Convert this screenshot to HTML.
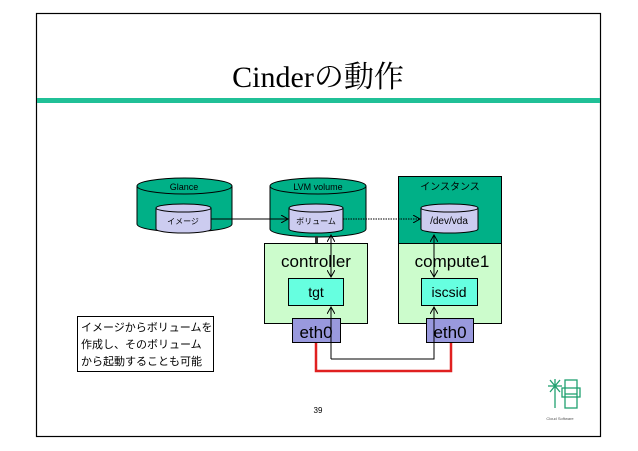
<!DOCTYPE html>
<html><head><meta charset="utf-8"><style>
body{margin:0;background:#fff;width:638px;height:451px;overflow:hidden}
svg{display:block}
text{font-family:"Liberation Sans","Noto Sans CJK JP",sans-serif}
</style></head><body>
<svg width="638" height="451" viewBox="0 0 638 451">
<defs><marker id="a" markerWidth="8" markerHeight="8" refX="7" refY="4" orient="auto" markerUnits="userSpaceOnUse"><path d="M0,0 L7,4 L0,8" fill="none" stroke="#000" stroke-width="1"/></marker></defs>
<rect x="36.5" y="13.5" width="564" height="423" fill="#fff" stroke="#000" stroke-width="1.2"/>
<rect x="37" y="98" width="563" height="5" fill="#20c097"/>
<text x="318" y="87" text-anchor="middle" font-size="30" style="font-family:'Liberation Serif','Noto Serif CJK SC',serif">Cinderの動作</text>

<path d="M137,186 L137,224 A47.5,8 0 0 0 232,224 L232,186" fill="#00b087" stroke="#000"/>
<ellipse cx="184.5" cy="186" rx="47.5" ry="8" fill="#00b087" stroke="#000"/>
<text x="184" y="190" text-anchor="middle" font-size="9">Glance</text>
<path d="M156,208 L156,229 A27.5,4 0 0 0 211,229 L211,208" fill="#ccccf0" stroke="#000"/>
<ellipse cx="183.5" cy="208" rx="27.5" ry="4" fill="#ccccf0" stroke="#000"/>
<text x="183" y="224" text-anchor="middle" font-size="8">イメージ</text>

<path d="M270,186 L270,229 A48,8 0 0 0 366,229 L366,186" fill="#00b087" stroke="#000"/>
<ellipse cx="318" cy="186" rx="48" ry="8" fill="#00b087" stroke="#000"/>
<text x="318" y="190" text-anchor="middle" font-size="9">LVM volume</text>
<path d="M289,208 L289,229 A27,4 0 0 0 343,229 L343,208" fill="#ccccf0" stroke="#000"/>
<ellipse cx="316" cy="208" rx="27" ry="4" fill="#ccccf0" stroke="#000"/>
<text x="316" y="224" text-anchor="middle" font-size="8">ボリューム</text>
<rect x="315" y="236" width="3" height="7" fill="#333"/>

<rect x="398.5" y="176.5" width="103" height="67" fill="#00b087" stroke="#000"/>
<text x="450" y="190" text-anchor="middle" font-size="10">インスタンス</text>
<rect x="398.5" y="243.5" width="103" height="80" fill="#ccfccc" stroke="#000"/>
<path d="M421,208 L421,229 A28.5,4 0 0 0 478,229 L478,208" fill="#ccccf0" stroke="#000"/>
<ellipse cx="449.5" cy="208" rx="28.5" ry="4" fill="#ccccf0" stroke="#000"/>
<text x="449" y="224" text-anchor="middle" font-size="10">/dev/vda</text>
<text x="452" y="267" text-anchor="middle" font-size="17">compute1</text>
<rect x="421.5" y="278.5" width="56" height="27" fill="#66ffe0" stroke="#000"/>
<text x="449" y="297" text-anchor="middle" font-size="14">iscsid</text>

<rect x="264.5" y="243.5" width="103" height="80" fill="#ccfccc" stroke="#000"/>
<text x="316" y="267" text-anchor="middle" font-size="17">controller</text>
<rect x="288.5" y="278.5" width="55" height="27" fill="#66ffe0" stroke="#000"/>
<text x="316" y="297" text-anchor="middle" font-size="14">tgt</text>

<path d="M316,342 L316,371 L451,371 L451,342" fill="none" stroke="#e02020" stroke-width="2.5"/>

<rect x="292.5" y="318.5" width="48" height="24" fill="#9999dd" stroke="#000"/>
<text x="316" y="338" text-anchor="middle" font-size="17">eth0</text>
<rect x="426.5" y="318.5" width="47" height="24" fill="#9999dd" stroke="#000"/>
<text x="450" y="338" text-anchor="middle" font-size="17">eth0</text>

<line x1="211" y1="219" x2="288" y2="219" stroke="#000" marker-end="url(#a)"/>
<line x1="343" y1="219" x2="420" y2="219" stroke="#000" stroke-dasharray="1.5,1" marker-end="url(#a)"/>
<line x1="331" y1="250" x2="331" y2="235" stroke="#000" marker-end="url(#a)"/>
<line x1="331" y1="250" x2="331" y2="277" stroke="#000" marker-end="url(#a)"/>
<line x1="434" y1="250" x2="434" y2="235" stroke="#000" marker-end="url(#a)"/>
<line x1="434" y1="250" x2="434" y2="277" stroke="#000" marker-end="url(#a)"/>
<path d="M331,359 L331,307" fill="none" stroke="#000" marker-end="url(#a)"/>
<path d="M331,359 L434,359 L434,307" fill="none" stroke="#000" marker-end="url(#a)"/>

<rect x="77.5" y="316.5" width="136" height="55" fill="#fff" stroke="#000"/>
<text font-size="11"><tspan x="81" y="331">イメージからボリュームを</tspan><tspan x="81" y="348">作成し、そのボリューム</tspan><tspan x="81" y="365">から起動することも可能</tspan></text>

<text x="318" y="413" text-anchor="middle" font-size="8">39</text>

<g stroke="#20a070" fill="none" stroke-width="1.3">
<line x1="548" y1="386" x2="562" y2="386"/><line x1="555" y1="379" x2="555" y2="408"/>
<line x1="550" y1="380" x2="560" y2="392"/><line x1="560" y1="380" x2="550" y2="392"/>
<rect x="565" y="380" width="12" height="28"/><line x1="565" y1="394" x2="577" y2="394"/>
<rect x="562" y="388" width="18" height="9"/>
</g>
<text x="560" y="420" text-anchor="middle" font-size="4" fill="#555">Cloud Software</text>
</svg>
</body></html>
